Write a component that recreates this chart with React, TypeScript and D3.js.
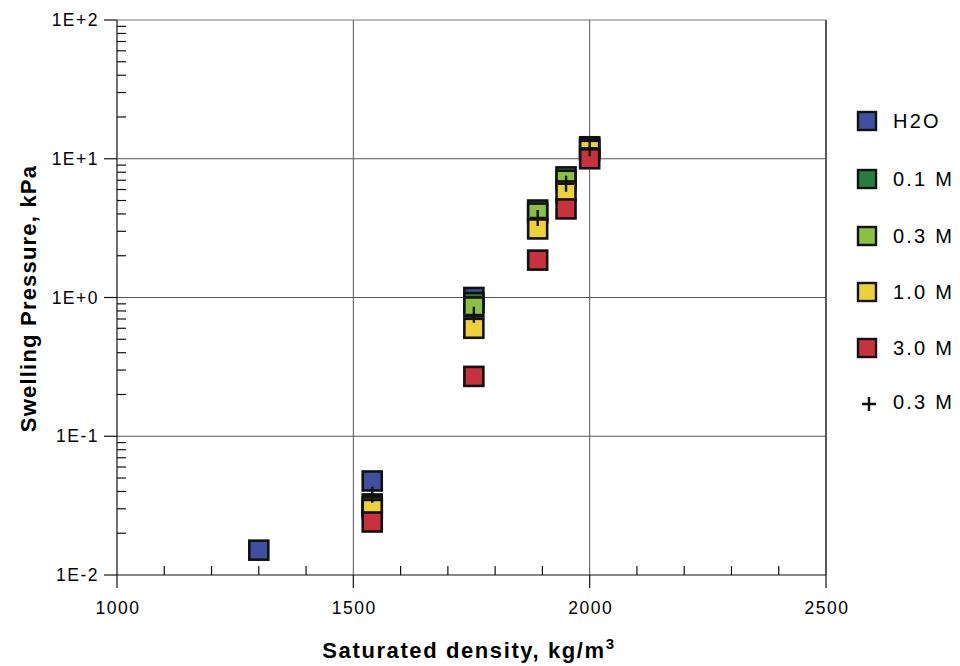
import React, { useEffect, useRef } from 'react';
import * as d3 from 'd3';

// series, drawn in this order (later ones on top)
const seriesNames = ['H2O', '0.1 M', '0.3 M', '1.0 M', '3.0 M'];
const seriesColors = ['#40509e', '#2b7d3f', '#8bc043', '#ecd137', '#c8323f'];

const h2oPoints: [number, number][] = [[1300, 0.0151], [1540, 0.0476], [1755, 1.0]];
const m01Points: [number, number][] = [[1540, 0.0325], [1755, 0.92], [1890, 4.27], [1950, 7.4], [2000, 12.2]];
const m03Points: [number, number][] = [[1540, 0.031], [1755, 0.855], [1890, 4.06], [1950, 7.0], [2000, 11.9]];
const m10Points: [number, number][] = [[1540, 0.0297], [1755, 0.6], [1890, 3.12], [1950, 5.86], [2000, 11.5]];
const m30Points: [number, number][] = [[1540, 0.0241], [1755, 0.27], [1890, 1.86], [1950, 4.35], [2000, 10.0]];
const crossPoints: [number, number][] = [[1540, 0.0378], [1755, 0.75], [1890, 3.74], [1950, 6.6], [2000, 11.9]];

const xTicks = [1000, 1500, 2000, 2500];
const yTicks = [0.01, 0.1, 1, 10, 100];
const yTickLabels = ['1E-2', '1E-1', '1E+0', '1E+1', '1E+2'];

const W = 960, H = 666;
const margin = { left: 117, right: 134, top: 20, bottom: 91 };
const FONT = '"Liberation Sans", Arial, Helvetica, sans-serif';

export default function App() {
  const svgRef = useRef<SVGSVGElement>(null);

  useEffect(() => {
    const svg = d3.select(svgRef.current);
    svg.selectAll('*').remove();

    const x = d3.scaleLinear().domain([1000, 2500]).range([margin.left, W - margin.right]);
    const y = d3.scaleLog().domain([0.01, 100]).range([H - margin.bottom, margin.top]);
    const [x0, x1] = x.range();
    const [y0, y1] = y.range();

    // grid
    const grid = svg.append('g').attr('stroke', '#555').attr('stroke-width', 1);
    xTicks.slice(1).forEach(t => {
      grid.append('line').attr('x1', x(t)).attr('x2', x(t)).attr('y1', y0).attr('y2', y1)
        .attr('stroke', t === 2500 ? '#222' : '#555').attr('stroke-width', t === 2500 ? 1.5 : 1);
    });
    yTicks.slice(1).forEach(t => {
      grid.append('line').attr('x1', x0).attr('x2', x1).attr('y1', y(t)).attr('y2', y(t))
        .attr('stroke', t === 100 ? '#777' : '#555');
    });

    // x axis
    const xa = svg.append('g').attr('stroke', '#111').attr('stroke-width', 1.2);
    xa.append('line').attr('x1', x0).attr('x2', x1).attr('y1', y0).attr('y2', y0);
    d3.range(1000, 2501, 100).forEach(t => {
      const major = t % 500 === 0;
      xa.append('line').attr('x1', x(t)).attr('x2', x(t))
        .attr('y1', major ? y0 + 13 : y0).attr('y2', major ? y0 : y0 - 9);
    });
    svg.append('g').selectAll('text').data(xTicks).join('text')
      .attr('x', d => x(d) + 1).attr('y', y0 + 39)
      .attr('text-anchor', 'middle')
      .style('font-family', FONT).style('font-size', '17.5px').style('letter-spacing', '1.5px')
      .text(d => d);

    // y axis
    const ya = svg.append('g').attr('stroke', '#111').attr('stroke-width', 1.2);
    ya.append('line').attr('x1', x0).attr('x2', x0).attr('y1', y0).attr('y2', y1);
    yTicks.forEach(t => {
      ya.append('line').attr('x1', x0 - 13).attr('x2', x0).attr('y1', y(t)).attr('y2', y(t));
    });
    yTicks.slice(0, -1).forEach(t => {
      d3.range(2, 10).forEach(k => {
        const v = t * k;
        ya.append('line').attr('x1', x0).attr('x2', x0 + 9).attr('y1', y(v)).attr('y2', y(v));
      });
    });
    svg.append('g').selectAll('text').data(yTicks).join('text')
      .attr('x', x0 - 18).attr('y', d => y(d)).attr('dy', '0.35em')
      .attr('text-anchor', 'end')
      .style('font-family', FONT).style('font-size', '17.5px').style('letter-spacing', '1.5px')
      .text((d, i) => yTickLabels[i]);

    // axis titles
    svg.append('text')
      .attr('transform', `translate(36,${(y0 + y1) / 2 + 1}) rotate(-90)`)
      .attr('text-anchor', 'middle')
      .style('font-family', FONT).style('font-size', '22px').style('font-weight', 'bold')
      .style('letter-spacing', '1.2px')
      .text('Swelling Pressure, kPa');
    const xt = svg.append('text')
      .attr('x', 469).attr('y', 658)
      .attr('text-anchor', 'middle')
      .style('font-family', FONT).style('font-size', '22px').style('font-weight', 'bold')
      .style('letter-spacing', '1.6px');
    xt.append('tspan').text('Saturated density, kg/m');
    xt.append('tspan').attr('dy', -9).style('font-size', '15px').text('3');

    // squares
    const allSeries = [h2oPoints, m01Points, m03Points, m10Points, m30Points];
    const S = 19;
    allSeries.forEach((pts, i) => {
      svg.append('g').selectAll('rect').data(pts).join('rect')
        .attr('x', d => x(d[0]) - S / 2).attr('y', d => y(d[1]) - S / 2)
        .attr('width', S).attr('height', S)
        .attr('fill', seriesColors[i])
        .attr('stroke', '#111').attr('stroke-width', 2.6);
    });

    // crosses
    const plus = (cx: number, cy: number, r: number) => `M${cx - r},${cy}H${cx + r}M${cx},${cy - r}V${cy + r}`;
    svg.append('g').selectAll('path').data(crossPoints).join('path')
      .attr('d', d => plus(x(d[0]), y(d[1]), 8))
      .attr('stroke', '#111').attr('stroke-width', 2.4).attr('fill', 'none');

    // legend
    const lg = svg.append('g');
    const legendY = [121, 179, 236, 292, 348];
    seriesNames.forEach((name, i) => {
      lg.append('rect').attr('x', 858).attr('y', legendY[i] - 9).attr('width', 18).attr('height', 18)
        .attr('fill', seriesColors[i]).attr('stroke', '#111').attr('stroke-width', 2.4);
      lg.append('text').attr('x', 893).attr('y', legendY[i]).attr('dy', '0.35em')
        .style('font-family', FONT).style('font-size', '20px').style('letter-spacing', '2.2px')
        .style('word-spacing', '0px').text(name);
    });
    lg.append('path').attr('d', plus(869, 404, 7)).attr('stroke', '#111').attr('stroke-width', 2.4);
    lg.append('text').attr('x', 893).attr('y', 402).attr('dy', '0.35em')
      .style('font-family', FONT).style('font-size', '20px').style('letter-spacing', '2.2px')
      .style('word-spacing', '0px').text('0.3 M');
  }, []);

  return (
    <svg ref={svgRef} width={W} height={H}
      style={{ position: 'absolute', left: 0, top: 0, background: '#fff', display: 'block' }} />
  );
}
